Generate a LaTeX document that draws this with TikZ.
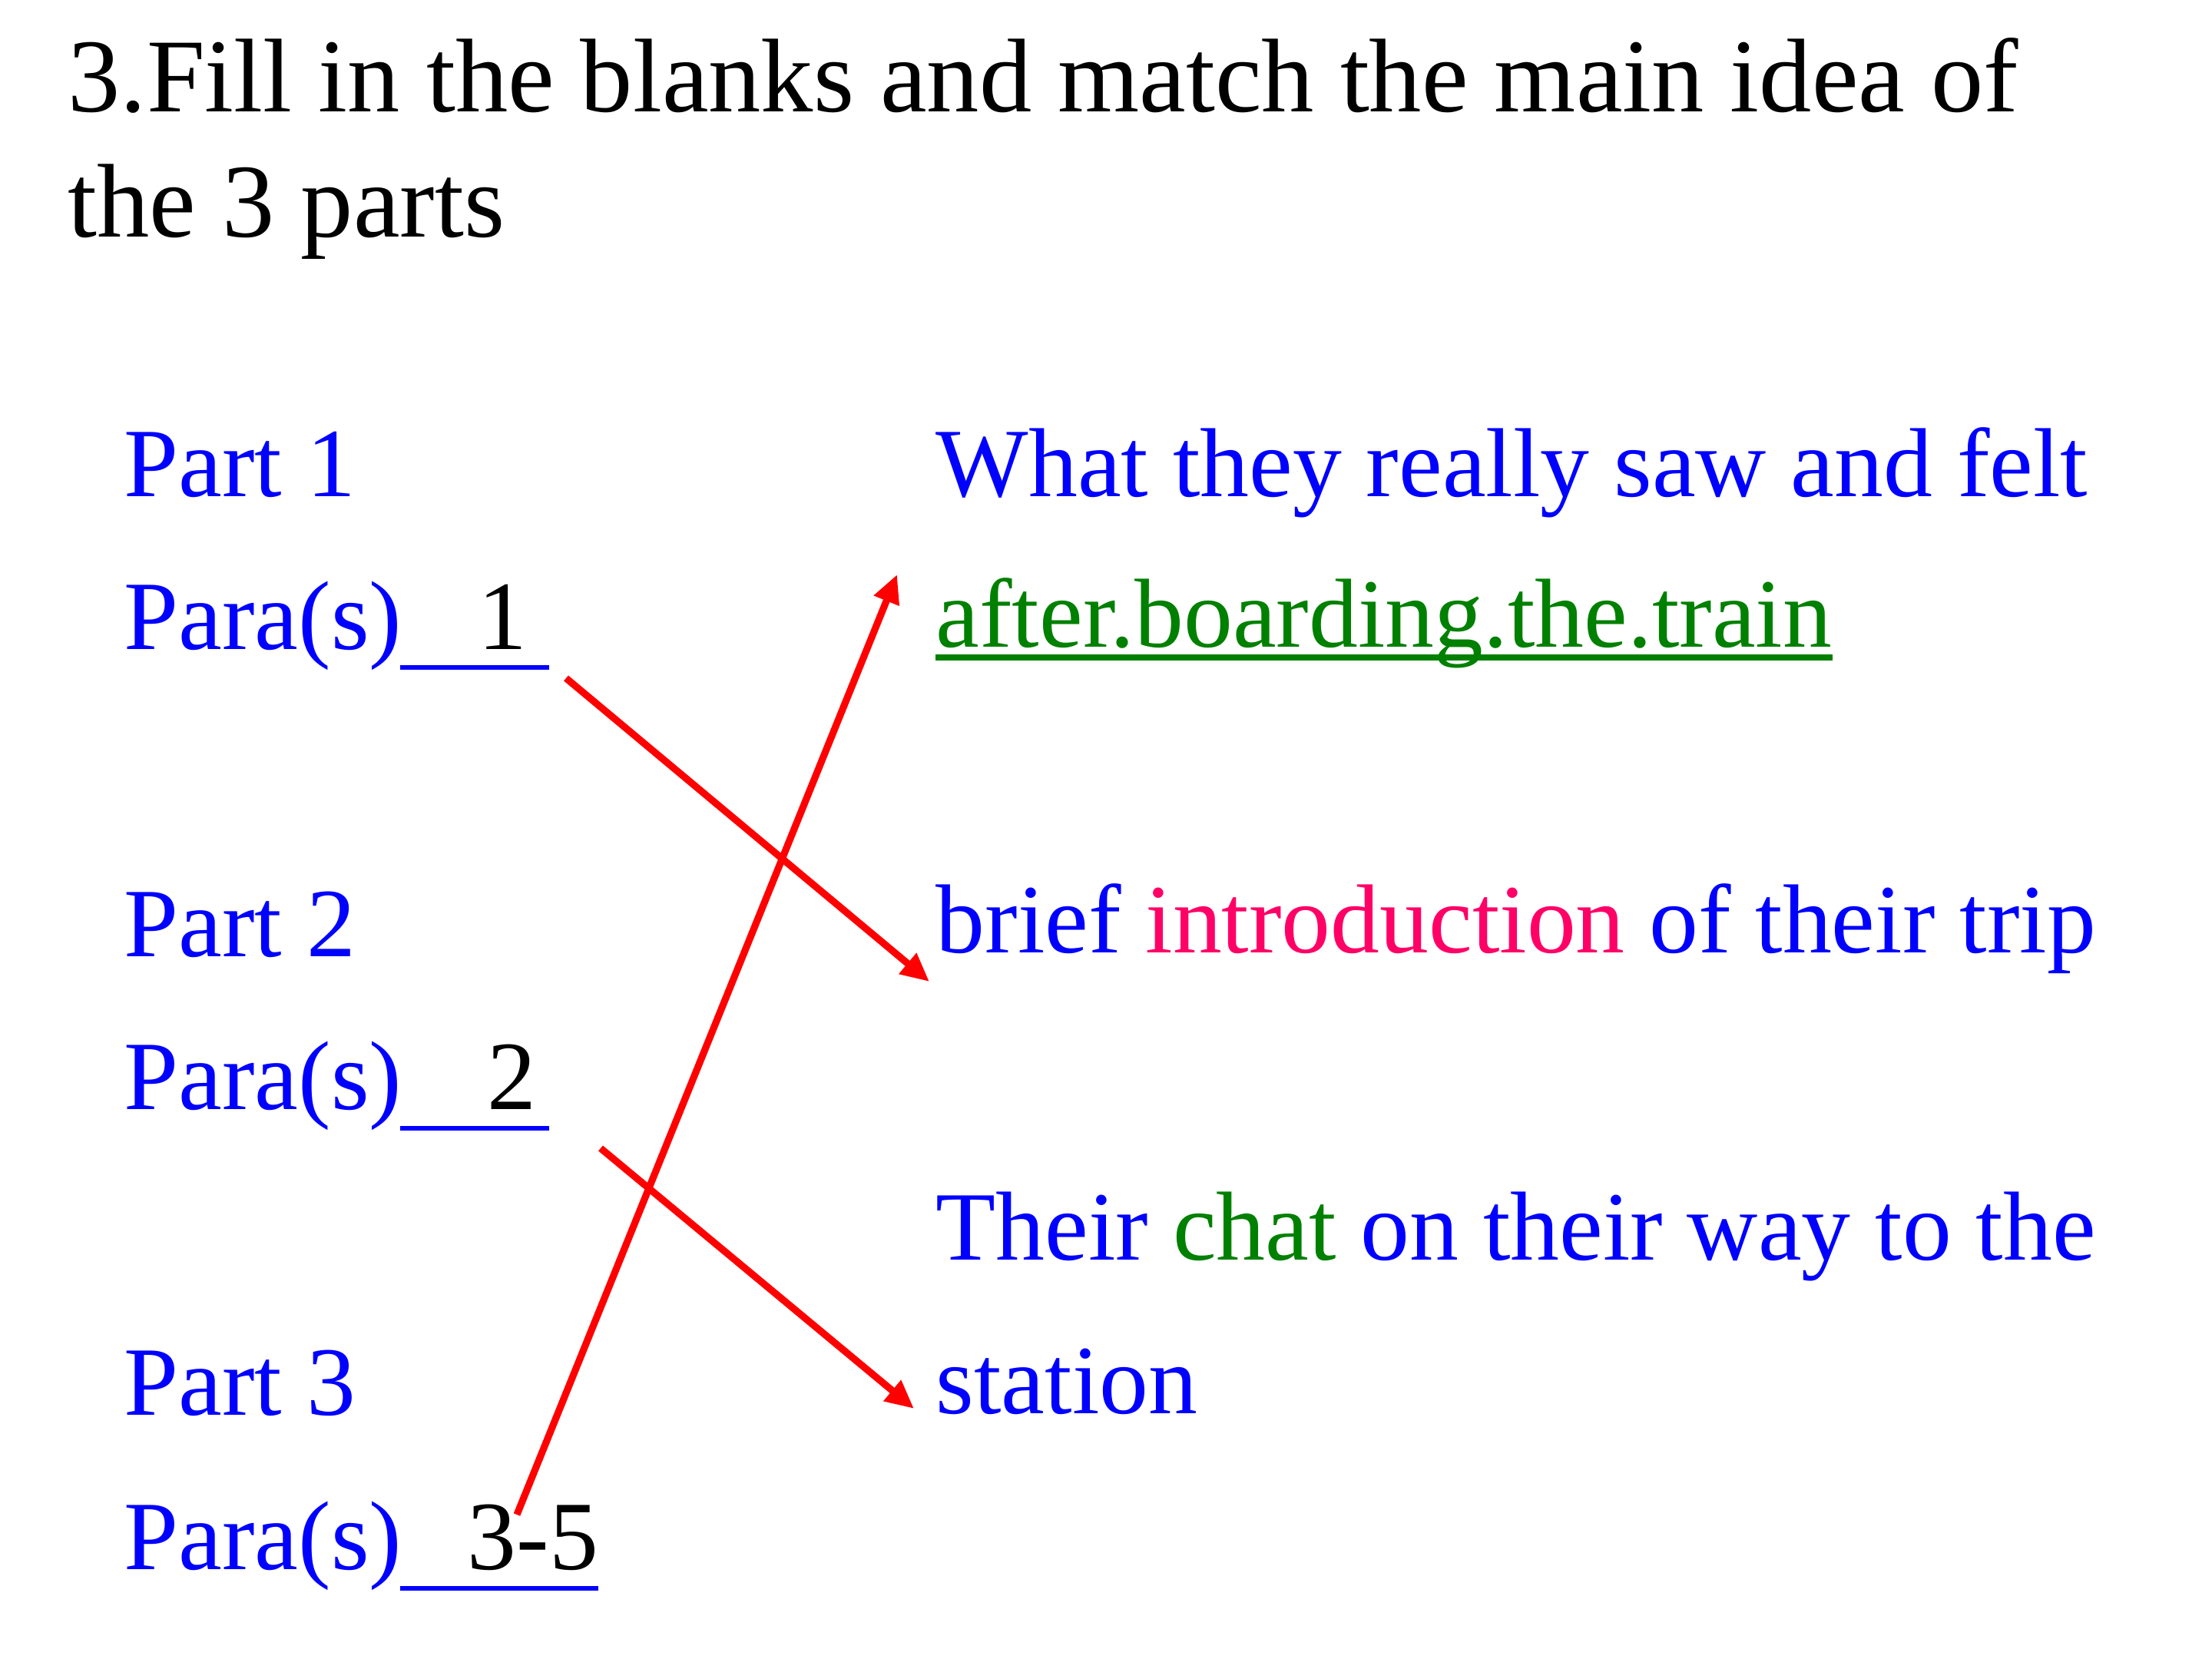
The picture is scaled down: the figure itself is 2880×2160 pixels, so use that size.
\documentclass[tikz,border=0pt]{standalone}
\usepackage{fontspec}
\setmainfont{Liberation Serif}
\usetikzlibrary{arrows.meta}
\definecolor{pblue}{HTML}{0000FF}
\definecolor{pgreen}{HTML}{008000}
\definecolor{ppink}{HTML}{FF0066}
\definecolor{pred}{HTML}{FF0000}
\tikzset{
  title/.style={anchor=base west,inner sep=0pt,font=\fontsize{38.8}{46}\selectfont,text=black},
  body/.style={anchor=base west,inner sep=0pt,font=\fontsize{36.3}{43}\selectfont,text=pblue},
  ans/.style={anchor=base west,inner sep=0pt,font=\fontsize{36.3}{43}\selectfont,text=black},
  uline/.style={draw=pblue,line width=1.5pt},
  match/.style={draw=pred,line width=2.6pt,-{Triangle[length=10.5pt,width=9.5pt]}}
}
\begin{document}
\begin{tikzpicture}[x=0.01cm,y=-0.01cm]
\useasboundingbox (0,0) rectangle (2880,2160);
\node[title] (t1) at (88,145) {3.Fill in the blanks and match the main idea of};
\node[title] (t2) at (88,308) {the 3 parts};
% left column
\node[body] (p1) at (161,646) {Part 1};
\node[body] (q1) at (161,845) {Para(s)};
\node[ans] (a1) at (622,845) {1};
\node[body] (p2) at (161,1245) {Part 2};
\node[body] (q2) at (161,1444) {Para(s)};
\node[ans] (a2) at (634,1444) {2};
\node[body] (p3) at (161,1842) {Part 3};
\node[body] (q3) at (161,2043) {Para(s)};
\node[ans] (a3) at (608,2043) {3-5};
\draw[uline] (521,869) -- (715,869);
\draw[uline] (521,1469) -- (715,1469);
\draw[uline] (521,2068) -- (779,2068);
% right column
\node[body] (r1) at (1218,646) {What they really saw and felt};
\node[body,text=pgreen] (r2) at (1218,842) {after.boarding.the.train};
\draw[draw=pgreen,line width=2.4pt] ([yshift=-14*0.01cm]r2.base west) -- ([yshift=-14*0.01cm]r2.base east);
\node[body] (r3) at (1218,1240) {brief \textcolor{ppink}{introduction} of their trip};
\node[body] (r4) at (1218,1640) {Their \textcolor{pgreen}{chat} on their way to the};
\node[body] (r5) at (1218,1840) {station};
% arrows
\coordinate (s1) at (737,883);
\coordinate (e1) at (1210,1278);
\coordinate (s2) at (782,1495);
\coordinate (e2) at (1190,1834);
\coordinate (s3) at (673,1972);
\coordinate (e3) at (1168,748);
\draw[match] (s1) -- (e1);
\draw[match] (s2) -- (e2);
\draw[match] (s3) -- (e3);
\end{tikzpicture}
\end{document}
